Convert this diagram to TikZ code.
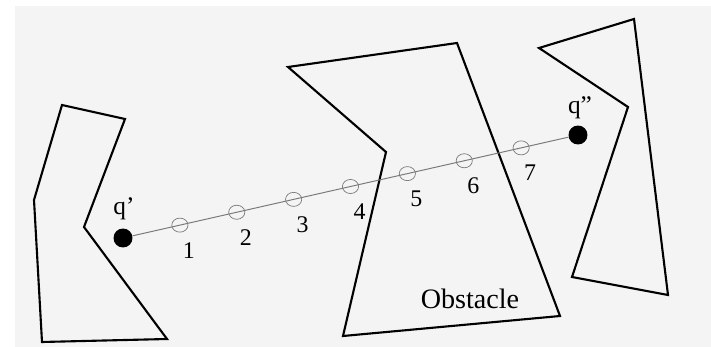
\documentclass[tikz,border=0pt]{standalone}
\usepackage{fontspec}
\setmainfont{Liberation Serif}
\usepackage{tikz}
\usetikzlibrary{calc,shapes.geometric}
\definecolor{cbg}{HTML}{F4F4F4}
\definecolor{cpath}{HTML}{7A7A7A}

\tikzset{
  obst/.style={line width=1.5pt,line join=miter},
  conf/.style={circle,fill=black,inner sep=0pt,minimum size=13.5pt},
  sample/.style={ellipse,draw=cpath,line width=0.5pt,inner sep=0pt,minimum width=11.5pt,minimum height=10pt},
  numlab/.style={font=\fontsize{17}{18}\selectfont,inner sep=0pt},
  qlab/.style={font=\fontsize{18}{19}\selectfont,inner sep=0pt}
}

\begin{document}
\begin{tikzpicture}[x=0.025cm,y=-0.025cm]
  \useasboundingbox (0,0) rectangle (711,347);
  \fill[cbg] (15,6) rectangle (711,347);
  % obstacles
  \draw[obst] (62,105) -- (125,119) -- (84,227) -- (167,339) -- (42,342) -- (34,200) -- cycle;
  \draw[obst] (288,67) -- (457,43) -- (560,316) -- (343,336) -- (386,152) -- cycle;
  \draw[obst] (539,48) -- (634,19) -- (668,295) -- (572,277) -- (628,107) -- cycle;
  \node[font=\fontsize{20}{21}\selectfont,inner sep=0pt] (obs) at (470,299) {Obstacle};
  % start and goal
  \node[conf] (qa) at (123,238) {};
  \node[conf] (qb) at (578,135) {};
  \node[qlab] (qal) at (124,209) {q'};
  \node[qlab] (qbl) at (580,108) {q''};
  \draw[cpath,line width=0.7pt] (qa) -- (qb);
  % samples along the segment
  \foreach \i in {1,...,7} {
    \node[sample] (s\i) at ($(qa.center)!\i/8!(qb.center)$) {};
    \node[numlab] (l\i) at ([shift={(9,25)}]s\i.center) {\i};
  }
\end{tikzpicture}
\end{document}
